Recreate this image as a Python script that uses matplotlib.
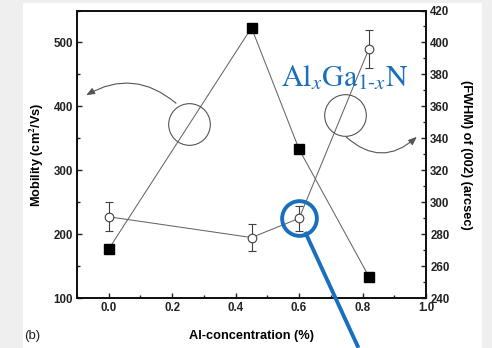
import matplotlib
matplotlib.use("Agg")
import matplotlib.pyplot as plt
from matplotlib.ticker import MultipleLocator
from matplotlib.patches import Rectangle

# Al content of the AlGaN layers
al_conc = [0.0, 0.45, 0.6, 0.82]
# Hall mobility (cm^2/Vs), left axis
mobility = [177, 523, 333, 134]
# XRD (002) rocking-curve FWHM (arcsec), right axis
fwhm = [291, 278, 290, 396]
fwhm_err = [9, 8.5, 8, 12]

x_ticks = [0.0, 0.2, 0.4, 0.6, 0.8, 1.0]
mob_ticks = [100, 200, 300, 400, 500]
fwhm_ticks = [240, 260, 280, 300, 320, 340, 360, 380, 400, 420]

plt.rcParams['font.family'] = ['Liberation Sans', 'DejaVu Sans']
plt.rcParams['mathtext.fontset'] = 'stix'

fig = plt.figure(figsize=(4.92, 3.48), dpi=100)
fig.patch.set_facecolor('#efefef')
fig.add_artist(Rectangle((23 / 492, 0), (482 - 23) / 492, 1 - 3 / 348,
                         transform=fig.transFigure, facecolor='white',
                         edgecolor='none', zorder=-10))

ax = fig.add_axes([77 / 492, 1 - 298.3 / 348, (426 - 77) / 492, (298.3 - 10.5) / 348])
ax.set_facecolor('none')
ax2 = ax.twinx()

line_col = '#666666'

# mobility: filled squares
ax.plot(al_conc, mobility, color=line_col, lw=0.75, marker='s', ms=7.2,
        mfc='black', mec='black', zorder=3)

# FWHM: open circles with error bars
ax2.errorbar(al_conc, fwhm, yerr=fwhm_err, color=line_col, lw=0.75,
             marker='o', ms=6.2, mfc='white', mec='#404040', mew=0.8,
             ecolor='#404040', elinewidth=0.8, capsize=3, capthick=0.8, zorder=3)

ax.set_xlim(-0.1, 1.0)
ax.set_ylim(100, 550)
ax2.set_ylim(240, 420)

ax.set_xticks(x_ticks)
ax.set_xticklabels([f'{v:.1f}' for v in x_ticks])
ax.xaxis.set_minor_locator(MultipleLocator(0.1))
ax.set_yticks(mob_ticks)
ax.yaxis.set_minor_locator(MultipleLocator(50))
ax2.set_yticks(fwhm_ticks)
ax2.yaxis.set_minor_locator(MultipleLocator(10))

for a in (ax, ax2):
    a.tick_params(which='both', direction='in', width=1.0, colors='#222222')
    a.tick_params(which='major', length=3.5, pad=3)
    a.tick_params(which='minor', length=2)
    for lab in a.get_xticklabels() + a.get_yticklabels():
        lab.set_fontsize(8.3)
        lab.set_fontweight('bold')
    for s in a.spines.values():
        s.set_linewidth(1.3)
        s.set_color('#111111')

ax.set_xlabel('Al-concentration (%)', fontsize=9.2, fontweight='bold', labelpad=11)
ax.set_ylabel('Mobility (cm$^\\mathbf{2}$/Vs)', fontsize=9.2, fontweight='bold', labelpad=5)
ax2.set_ylabel('(FWHM) of (002) (arcsec)', fontsize=9.2, fontweight='bold',
               rotation=270, labelpad=16)

fig.text(24 / 492, 1 - 336 / 348, '(b)', fontsize=9.5, va='center', ha='left', color='#222222')

# circles marking which curve belongs to which axis
ax.plot(0.254, 373, marker='o', ms=30, mfc='none', mec='#555555', mew=0.8, zorder=4)
ax2.plot(0.746, 354.6, marker='o', ms=30, mfc='none', mec='#555555', mew=0.8, zorder=4)

arrow_kw = dict(arrowstyle='-|>,head_length=0.5,head_width=0.2', color='#555555', lw=0.8,
                shrinkA=0, shrinkB=0)
ax.annotate('', xy=(-0.071, 417.5), xytext=(0.212, 405),
            arrowprops=dict(connectionstyle='arc3,rad=0.35', **arrow_kw),
            annotation_clip=False)
ax2.annotate('', xy=(0.971, 341.0), xytext=(0.748, 341.0),
             arrowprops=dict(connectionstyle='arc3,rad=0.45', **arrow_kw),
             annotation_clip=False)

# compound label
blue = '#1a6fbd'
ax2.text(0.544, 373, r'$\mathrm{Al}_{x}\mathrm{Ga}_{1\text{-}x}\mathrm{N}$',
         fontsize=21.5, color=blue, ha='left', va='baseline', zorder=5)

# highlight of the x = 0.6 sample
ax2.plot(0.6, 290.4, marker='o', ms=25, mfc='none', mec=blue, mew=2.8, zorder=6, clip_on=False)
ax2.plot([0.619, 0.787], [281.5, 209.0], color=blue, lw=2.8, solid_capstyle='butt',
         zorder=6, clip_on=False)

fig.savefig('out.png', dpi=100, facecolor=fig.get_facecolor())
